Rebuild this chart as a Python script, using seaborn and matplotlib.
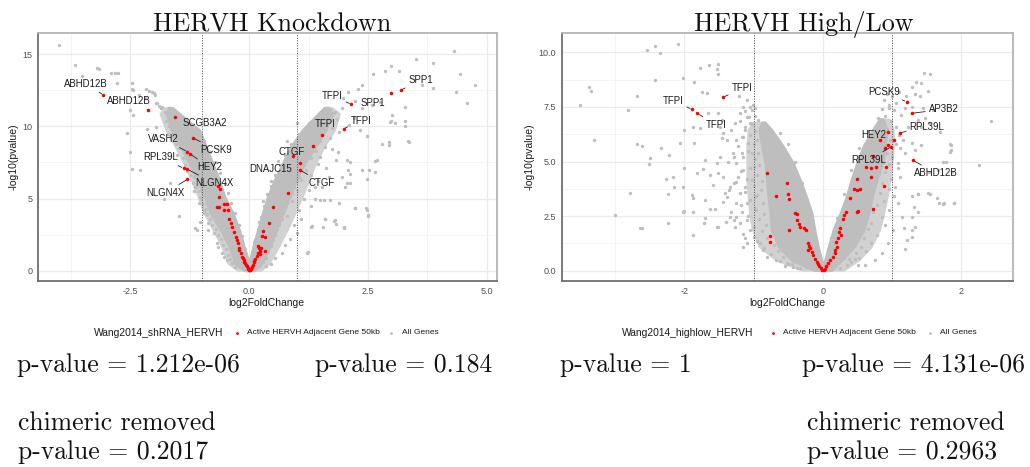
import matplotlib
matplotlib.use("Agg")
import matplotlib.pyplot as plt
from matplotlib.lines import Line2D
from matplotlib.ticker import FixedLocator
import pandas as pd
import seaborn as sns

# ---------------------------------------------------------------- data
# Knockdown screen: scattered genes away from the core (log2FC, -log10 p)
kd_other = [
    (-4.01, 15.65), (-3.66, 14.24), (-3.52, 13.50), (-3.20, 14.05), (-3.17, 13.95),
    (-2.90, 13.67), (-2.82, 13.67), (-2.77, 13.67), (-2.79, 12.98), (-2.47, 12.98),
    (-2.46, 12.60), (-2.44, 12.50), (-2.18, 12.56), (-2.10, 12.47), (-2.01, 12.28),
    (-2.05, 12.40), (-1.98, 12.17), (-2.31, 12.20), (-2.19, 11.94), (-1.96, 11.63),
    (-1.95, 11.60), (-1.90, 11.40), (-1.86, 11.25), (-2.52, 11.13), (-2.45, 10.80),
    (-2.57, 9.56), (-2.15, 9.79), (-1.96, 9.93), (-2.52, 8.20), (-2.47, 7.02),
    (-2.29, 6.97), (-1.66, 6.10), (-1.80, 5.00), (-1.47, 3.80), (-1.15, 2.98),
    (-1.10, 2.82), (-1.03, 3.40), (-1.05, 4.67), (-1.04, 5.12), (-1.17, 5.54),
    (-0.96, 3.97), (-0.86, 2.82), (-0.65, 1.66), (-0.54, 0.97),
    (-1.84, 11.31), (-1.77, 11.01), (-1.63, 9.74), (-1.49, 9.05), (-1.38, 8.36),
    (-1.28, 7.67), (-1.17, 6.51), (-1.14, 5.82), (-1.00, 5.36), (-0.96, 4.20),
    (-0.86, 3.28), (-0.75, 2.59), (-0.68, 1.89), (-0.58, 1.20), (-0.47, 0.74),
    (-0.36, 0.51), (-0.29, 0.28), (-1.00, 7.90), (-1.21, 9.05), (-1.35, 9.74),
    (4.32, 15.24), (3.86, 14.36), (3.51, 14.66), (2.99, 14.20), (2.85, 13.80),
    (3.16, 13.80), (2.60, 13.63), (4.43, 13.63), (4.76, 12.85), (4.35, 12.40),
    (3.86, 12.63), (3.64, 12.85), (3.28, 11.36), (4.58, 11.59), (2.37, 12.86),
    (2.30, 12.56), (2.09, 12.40), (1.97, 11.94), (2.23, 11.77), (2.37, 11.24),
    (2.58, 11.47), (2.76, 11.70), (3.00, 10.78), (2.98, 10.40), (3.28, 10.38),
    (2.97, 10.32), (3.06, 10.25), (3.28, 10.02), (3.37, 8.93), (2.95, 8.93),
    (2.79, 8.77), (2.95, 8.70), (3.35, 8.98), (2.34, 9.74), (2.48, 9.33),
    (2.69, 7.67), (2.65, 7.62), (2.65, 6.86), (2.48, 6.33), (2.46, 4.32),
    (2.50, 3.86), (2.22, 4.32), (1.99, 2.98), (1.90, 4.71), (1.80, 3.51),
    (1.60, 3.58), (1.55, 3.00), (1.71, 4.90), (1.39, 4.94), (1.48, 4.90),
    (1.31, 3.05), (1.21, 1.20), (2.13, 6.05), (2.06, 6.10), (2.09, 6.97),
    (2.13, 7.50), (2.06, 7.67), (1.87, 8.24), (1.83, 7.67), (1.67, 6.51),
    (1.32, 3.10), (1.59, 3.55), (1.78, 3.46), (1.82, 3.23), (2.00, 3.05),
    (2.48, 4.20), (2.50, 3.80), (2.23, 4.32), (2.02, 5.80), (1.38, 5.82),
    (1.54, 5.82), (1.57, 4.90), (1.24, 1.32), (2.53, 7.00), (2.37, 6.97),
    (2.13, 6.70), (1.95, 6.50),
    (1.65, 10.20), (1.75, 9.90), (1.85, 10.50), (1.90, 9.60), (1.70, 9.20),
    (1.60, 8.60), (1.75, 8.40), (1.50, 7.90), (1.45, 7.40), (1.62, 7.10),
    (1.30, 6.60), (1.45, 6.20), (1.25, 5.60), (1.15, 5.00), (1.30, 4.50),
    (1.05, 4.20), (1.10, 3.60), (0.95, 3.20), (1.00, 2.60), (0.85, 2.20),
    (0.75, 1.80), (0.70, 1.20), (0.55, 0.90), (0.45, 0.50), (0.35, 0.30),
    (1.80, 11.00), (1.95, 11.30), (1.70, 10.80), (1.55, 10.60), (2.10, 10.10),
    (2.20, 10.60), (1.20, 7.00), (1.30, 7.80), (1.40, 8.30), (1.50, 9.00),
    (0.90, 4.80), (1.00, 5.60), (1.10, 6.30), (0.80, 3.80),
    (0.30, 4.80), (0.45, 6.20), (0.60, 7.60), (0.80, 9.00), (1.00, 10.20),
    (0.20, 3.40), (0.10, 2.00),
]

# Knockdown screen: genes crowding the edges of the core
kd_edge = [
    (-1.75, 10.40), (-1.68, 10.00), (-1.72, 9.50), (-1.60, 9.30), (-1.55, 8.80),
    (-1.48, 8.50), (-1.52, 8.00), (-1.40, 7.80), (-1.35, 7.30), (-1.30, 6.90),
    (-1.22, 6.60), (-1.18, 6.10), (-1.12, 5.80), (-1.06, 5.50), (-1.02, 5.00),
    (-0.98, 4.60), (-0.92, 4.30), (-0.88, 3.90), (-0.82, 3.60), (-0.78, 3.20),
    (-0.70, 2.90), (-0.65, 2.50), (-0.60, 2.20), (-0.55, 1.80), (-0.48, 1.50),
    (-0.45, 1.10), (-0.40, 0.80), (-0.33, 0.60), (-0.25, 0.40),
    (-1.45, 10.60), (-1.30, 10.30), (-1.05, 9.60), (-0.95, 9.00), (-0.82, 8.20),
    (-0.72, 7.50), (-0.62, 6.80), (-0.52, 6.00), (-0.45, 5.40), (-0.38, 4.70),
    (-0.30, 4.00), (-0.22, 3.20), (-0.15, 2.40), (-0.08, 1.50), (-0.04, 0.90),
    (1.70, 11.20), (1.78, 10.90), (1.72, 10.50), (1.62, 10.00), (1.55, 9.60),
    (1.45, 9.20), (1.40, 8.90), (1.32, 8.40), (1.25, 8.00), (1.20, 7.60),
    (1.15, 7.30), (1.08, 6.90), (1.05, 6.50), (1.00, 6.20), (0.95, 5.80),
    (0.90, 5.40), (0.85, 5.10), (0.80, 4.70), (0.75, 4.40), (0.72, 4.00),
    (0.68, 3.60), (0.62, 3.20), (0.58, 2.90), (0.55, 2.50), (0.50, 2.10),
    (0.45, 1.70), (0.40, 1.30), (0.35, 0.90), (0.28, 0.60), (0.20, 0.30),
    (1.45, 10.70), (1.25, 10.20), (1.05, 9.50), (0.88, 8.80), (0.75, 8.00),
    (0.65, 7.30), (0.55, 6.60), (0.45, 5.90), (0.38, 5.30), (0.32, 4.50),
    (0.25, 3.70), (0.18, 2.90), (0.12, 2.10), (0.06, 1.30), (0.02, 0.70),
]

# Knockdown screen: active HERVH adjacent genes (50 kb)
kd_hervh = [
    (-3.07, 12.17), (-2.14, 11.10), (-1.56, 10.62), (-1.19, 9.21), (-1.30, 8.24),
    (-1.24, 8.08), (-1.38, 7.09), (-1.30, 7.02), (-1.30, 6.33),
    (-0.65, 5.89), (-0.61, 5.66), (-0.63, 5.12), (-0.68, 4.44), (-0.63, 4.44),
    (-0.53, 4.60), (-0.47, 4.60), (-0.44, 4.21), (-0.54, 4.20), (-0.42, 3.60),
    (-0.38, 3.30), (-0.36, 3.05), (-0.31, 2.70), (-0.27, 2.36), (-0.25, 2.10),
    (-0.24, 1.90), (-0.21, 1.60), (-0.21, 1.43), (-0.18, 1.20), (-0.16, 0.97),
    (-0.14, 0.85), (-0.12, 0.74), (-0.10, 0.62), (-0.08, 0.51), (-0.06, 0.40),
    (-0.05, 0.33), (-0.03, 0.22), (-0.02, 0.15), (0.00, 0.05),
    (3.19, 12.50), (2.98, 12.33), (2.15, 11.52), (1.99, 9.84), (1.54, 9.40),
    (1.35, 8.64), (0.93, 7.97), (1.07, 7.44), (1.07, 6.97), (0.81, 5.36),
    (0.51, 4.41), (0.41, 3.33), (0.29, 2.75), (0.27, 2.40), (0.34, 2.35),
    (0.34, 1.36), (0.18, 1.70), (0.20, 1.55), (0.23, 1.40), (0.19, 1.25),
    (0.22, 1.15), (0.25, 1.60), (0.16, 1.00), (0.13, 0.80), (0.11, 0.68),
    (0.10, 0.60), (0.07, 0.42), (0.05, 0.28), (0.03, 0.15), (0.01, 0.06),
]

# Knockdown screen: outline of the densely packed bulk of genes,
# and of the looser halo of genes around it
kd_core_y = [0.02, 0.51, 1.66, 2.82, 3.97, 5.13, 6.28, 7.43, 8.60, 9.75, 10.90, 11.30]
kd_core_left_outer = [-0.10, -0.30, -0.42, -0.60, -0.81, -0.95, -1.09, -1.26, -1.44, -1.64, -1.74, -1.70]
kd_core_left_inner = [0.05, 0.00, -0.11, -0.21, -0.34, -0.52, -0.63, -0.77, -0.91, -1.05, -1.48, -1.62]
kd_core_right_inner = [-0.05, 0.00, 0.08, 0.18, 0.28, 0.39, 0.53, 0.70, 0.88, 1.12, 1.46, 1.58]
kd_core_right_outer = [0.10, 0.27, 0.43, 0.57, 0.71, 0.85, 0.99, 1.16, 1.40, 1.61, 1.75, 1.66]
kd_halo_left_outer = [-0.25, -0.45, -0.58, -0.76, -0.95, -1.08, -1.22, -1.38, -1.56, -1.76, -1.88, -1.78]
kd_halo_right_outer = [0.25, 0.42, 0.62, 0.80, 0.96, 1.12, 1.26, 1.40, 1.58, 1.80, 1.90, 1.74]

# High/low comparison: scattered genes away from the core
hl_other = [
    (-3.50, 7.59), (-3.38, 8.43), (-3.35, 8.24), (-3.30, 5.99), (-3.00, 2.55),
    (-2.78, 3.55), (-2.64, 1.94), (-2.61, 1.97), (-2.69, 8.02), (-2.82, 7.36),
    (-2.69, 5.80), (-2.61, 5.73), (-2.54, 10.11), (-2.42, 10.29), (-2.35, 9.96),
    (-2.09, 10.37), (-2.42, 8.74), (-2.50, 5.15), (-2.51, 4.87), (-2.34, 5.60),
    (-2.22, 5.30), (-2.27, 4.20), (-2.17, 4.31), (-2.24, 3.50), (-2.15, 3.85),
    (-2.24, 2.20), (-2.02, 8.84), (-2.01, 6.44), (-2.06, 5.83), (-2.00, 4.69),
    (-2.02, 3.85), (-2.02, 2.71), (-2.00, 2.74), (-1.88, 2.67), (-1.88, 1.63),
    (-1.86, 8.62), (-1.87, 6.59), (-1.86, 5.83), (-1.89, 3.46), (-1.87, 3.31),
    (-1.78, 9.30), (-1.64, 9.42), (-1.52, 9.45), (-1.53, 9.24), (-1.51, 9.00),
    (-1.75, 8.20), (-1.67, 8.12), (-1.77, 6.52), (-1.70, 5.07), (-1.81, 4.46),
    (-1.73, 4.64), (-1.63, 4.38), (-1.58, 3.92), (-1.70, 3.24), (-1.63, 2.81),
    (-1.56, 2.81), (-1.70, 2.40), (-1.72, 2.17), (-1.52, 2.01), (-1.66, 7.20),
    (-1.51, 7.24), (-1.21, 7.98), (-1.46, 6.90), (-1.49, 6.60), (-1.44, 6.30),
    (-1.46, 6.08), (-1.41, 3.55), (-1.39, 3.39), (-1.44, 3.16), (-1.32, 2.71),
    (-1.34, 2.47), (-1.40, 2.25), (-1.53, 2.01), (-1.20, 2.17), (-1.27, 2.01),
    (-1.15, 1.10), (-1.12, 1.48),
    (-1.53, 4.92), (-1.49, 5.22), (-1.37, 4.99), (-1.29, 5.22), (-1.25, 4.92),
    (-1.17, 5.38), (-1.15, 4.61), (-1.22, 4.31), (-1.29, 4.00), (-1.13, 3.85),
    (-1.20, 3.54), (-1.25, 3.09), (-1.10, 3.09), (-1.17, 2.70), (-1.10, 2.32),
    (-1.25, 2.48), (-1.34, 3.85), (-1.44, 4.31), (-1.51, 4.46), (-1.39, 5.99),
    (-1.32, 6.45), (-1.27, 6.75), (-1.20, 7.21), (-1.15, 7.51), (-1.10, 7.06),
    (-1.03, 7.36), (-0.98, 7.44), (-1.05, 6.75), (-1.13, 6.45), (-1.25, 5.99),
    (-1.17, 6.14), (-1.08, 5.83), (-1.03, 5.38), (-1.00, 4.77), (-1.03, 4.16),
    (-0.98, 3.39), (-0.96, 2.78), (-1.05, 1.86), (-1.00, 1.56), (-0.91, 1.25),
    (-0.86, 0.95), (-1.10, 1.25), (-0.81, 0.64), (-0.67, 0.49), (-0.52, 0.34),
    (-0.43, 0.15), (-0.33, 0.11), (-0.50, 0.30), (-0.40, 0.55),
    (1.46, 9.07), (1.54, 9.01), (1.35, 8.66), (1.41, 8.58), (1.28, 8.43),
    (1.33, 8.09), (1.40, 8.00), (1.52, 8.23), (1.45, 7.44), (1.38, 6.90),
    (1.47, 6.98), (1.53, 6.75), (1.42, 6.60), (1.59, 7.36), (1.69, 6.34),
    (1.28, 7.51), (1.18, 7.44), (1.13, 7.13), (1.23, 6.60), (1.16, 5.99),
    (1.28, 5.83), (1.33, 5.53), (1.18, 5.38), (1.11, 5.60), (1.09, 4.92),
    (1.42, 5.76), (1.85, 5.76), (1.85, 5.53), (1.74, 4.99), (1.78, 4.99),
    (1.86, 4.54), (1.66, 4.61), (1.53, 4.54), (2.25, 4.84), (2.43, 6.87),
    (1.89, 3.09), (1.73, 3.04), (1.65, 3.31), (1.54, 3.51), (1.38, 3.51),
    (1.28, 3.44), (1.32, 2.93), (1.28, 2.48), (1.33, 2.02), (1.17, 1.94),
    (1.19, 0.98), (1.21, 1.40), (1.14, 2.48), (1.09, 3.09), (1.04, 3.85),
    (1.11, 4.31), (1.01, 1.86), (0.94, 1.25), (0.85, 0.80), (0.75, 0.49),
    (0.46, 0.52), (0.61, 0.26), (1.52, 3.55), (1.37, 3.50), (1.37, 2.68),
    (1.28, 1.53), (1.28, 1.87), (1.83, 5.80), (1.83, 5.43), (1.75, 3.10),
    (1.68, 3.10), (1.89, 3.12), (0.40, 0.40), (0.50, 0.25), (0.30, 0.60),
    (1.05, 7.70), (1.00, 8.00), (0.95, 7.45), (1.10, 8.20), (1.20, 8.00),
]

# High/low comparison: genes crowding the edges of the core
hl_edge = [
    (-1.10, 7.80), (-1.05, 7.50), (-1.13, 7.30), (-1.01, 7.60), (-1.06, 7.05),
    (-0.98, 7.10), (-0.93, 6.90), (-0.88, 6.75), (-1.02, 6.70), (-1.12, 6.60),
    (-1.20, 6.85), (-0.98, 6.40), (-1.05, 6.20), (-1.15, 6.10), (-0.95, 6.00),
    (-1.00, 5.80), (-1.22, 5.70), (-1.08, 5.50), (-0.93, 5.40), (-1.15, 5.20),
    (-0.98, 5.10), (-1.30, 5.40), (-0.92, 4.85), (-1.05, 4.70), (-1.18, 4.55),
    (-0.95, 4.40), (-1.10, 4.20), (-0.88, 4.10), (-1.25, 4.05), (-1.00, 3.90),
    (-0.90, 3.70), (-1.12, 3.60), (-0.95, 3.45), (-1.35, 3.70), (-1.05, 3.25),
    (-0.87, 3.10), (-1.18, 3.00), (-0.98, 2.85), (-0.85, 2.60), (-1.08, 2.50),
    (-0.92, 2.35), (-1.28, 2.30), (-0.82, 2.10), (-1.00, 2.00), (-0.88, 1.80),
    (-1.15, 1.70), (-0.80, 1.50), (-0.95, 1.35), (-0.70, 1.20), (-0.85, 1.05),
    (-0.65, 0.90), (-0.75, 0.75), (-0.58, 0.65), (-0.62, 0.45), (-0.55, 0.20),
    (-0.45, 0.30), (-0.38, 0.12), (-0.30, 0.35), (-0.25, 0.15),
    (-0.40, 5.00), (-0.30, 4.00), (-0.22, 3.00), (-0.50, 5.80), (-0.62, 6.30),
    (0.95, 7.60), (1.02, 7.35), (0.90, 7.10), (0.98, 6.85), (1.05, 6.60),
    (0.93, 6.50), (1.10, 6.20), (0.97, 6.00), (1.05, 5.80), (0.92, 5.40),
    (1.00, 5.20), (0.95, 4.90), (1.08, 4.70), (0.90, 4.50), (0.98, 4.20),
    (0.86, 4.00), (0.95, 3.75), (0.82, 3.55), (1.02, 3.40), (0.88, 3.20),
    (0.78, 3.00), (0.95, 2.80), (0.72, 2.70), (0.85, 2.45), (0.70, 2.20),
    (0.90, 2.10), (0.65, 1.90), (0.78, 1.65), (0.60, 1.50), (0.70, 1.25),
    (0.55, 1.10), (0.62, 0.90), (0.48, 0.80), (0.52, 0.60), (0.38, 0.55),
    (0.35, 0.25), (0.25, 0.12), (0.85, 7.40), (0.80, 7.00), (0.75, 6.60),
    (0.88, 7.80), (0.92, 8.10), (0.30, 3.50), (0.40, 4.60), (0.52, 5.60),
    (0.65, 6.40), (0.20, 2.40), (0.12, 1.50),
]

# High/low comparison: active HERVH adjacent genes (50 kb)
hl_hervh = [
    (-1.44, 7.94), (-1.89, 7.39), (-1.81, 7.20), (-0.81, 4.49), (-0.52, 4.03),
    (-0.67, 3.44), (-0.50, 3.50), (-0.49, 3.27), (-0.40, 2.66), (-0.38, 2.60),
    (-0.38, 2.32), (-0.35, 2.14), (-0.49, 1.86), (-0.33, 2.00), (-0.27, 1.97),
    (-0.25, 1.86), (-0.77, 1.58), (-0.77, 1.31), (-0.21, 1.25), (-0.20, 1.13),
    (-0.18, 1.05), (-0.21, 0.95), (-0.16, 0.85), (-0.14, 0.70), (-0.12, 0.55),
    (-0.09, 0.42), (-0.07, 0.30), (-0.05, 0.20), (-0.03, 0.12), (-0.01, 0.05),
    (1.21, 7.73), (1.29, 7.21), (1.11, 6.31), (0.94, 6.34), (0.83, 5.99),
    (1.02, 5.99), (0.89, 5.60), (0.94, 5.75), (0.99, 5.68), (0.91, 4.76),
    (1.30, 5.06), (0.72, 5.25), (0.62, 4.74), (0.69, 4.69), (0.77, 4.74),
    (0.70, 4.31), (0.88, 3.89), (0.45, 3.73), (0.49, 3.70), (0.53, 3.73),
    (0.49, 4.19), (0.39, 3.32), (0.73, 2.83), (0.49, 2.70), (0.51, 2.72),
    (0.33, 2.70), (0.31, 2.55), (0.29, 2.35), (0.25, 1.94), (0.23, 1.79),
    (0.26, 1.64), (0.22, 1.48), (0.19, 1.33), (0.20, 1.10), (0.17, 0.95),
    (0.18, 0.79), (0.14, 0.62), (0.11, 0.48), (0.08, 0.34), (0.05, 0.20),
    (0.03, 0.10), (0.01, 0.04),
]

# High/low comparison: outline of the densely packed bulk of genes and its halo
hl_core_left_y = [0.02, 0.49, 1.10, 1.87, 2.63, 3.39, 4.16, 4.92, 5.68, 6.45, 6.80]
hl_core_left_outer = [-0.12, -0.45, -0.64, -0.74, -0.76, -0.79, -0.81, -0.83, -0.88, -0.92, -0.88]
hl_core_left_inner = [0.05, -0.02, -0.07, -0.12, -0.16, -0.24, -0.33, -0.43, -0.57, -0.74, -0.84]
hl_halo_left_outer = [-0.30, -0.68, -0.92, -1.02, -1.06, -1.08, -1.10, -1.10, -1.10, -1.08, -1.02]
hl_core_right_y = [0.02, 0.49, 1.10, 1.87, 2.63, 3.39, 4.16, 4.92, 5.68, 6.45, 6.95]
hl_core_right_inner = [-0.05, 0.03, 0.08, 0.15, 0.25, 0.34, 0.41, 0.49, 0.58, 0.72, 0.82]
hl_core_right_outer = [0.12, 0.27, 0.45, 0.59, 0.66, 0.71, 0.78, 0.86, 0.90, 0.92, 0.87]
hl_halo_right_outer = [0.30, 0.52, 0.70, 0.82, 0.88, 0.93, 0.97, 1.00, 1.02, 1.02, 0.96]

# Gene labels: name, labelled gene (x, y), label anchor (x, y), leader line drawn
kd_labels = [
    ("ABHD12B", (-3.07, 12.17), (-3.44, 12.93), True),
    ("ABHD12B", (-2.14, 11.10), (-2.54, 11.75), False),
    ("SCGB3A2", (-1.56, 10.62), (-0.93, 10.20), False),
    ("VASH2", (-1.30, 8.24), (-1.80, 9.10), True),
    ("PCSK9", (-1.19, 9.21), (-0.69, 8.36), True),
    ("RPL39L", (-1.38, 7.09), (-1.86, 7.85), True),
    ("HEY2", (-1.24, 8.08), (-0.84, 7.16), True),
    ("NLGN4X", (-1.30, 7.02), (-0.73, 6.05), True),
    ("NLGN4X", (-1.30, 6.33), (-1.77, 5.40), True),
    ("SPP1", (3.19, 12.50), (3.61, 13.20), True),
    ("TFPI", (2.15, 11.52), (1.75, 12.12), True),
    ("SPP1", (2.98, 12.33), (2.60, 11.59), False),
    ("TFPI", (1.99, 9.84), (2.36, 10.39), True),
    ("TFPI", (1.54, 9.40), (1.59, 10.16), False),
    ("CTGF", (0.93, 7.97), (0.90, 8.20), False),
    ("DNAJC15", (1.07, 7.44), (0.46, 7.06), False),
    ("CTGF", (1.07, 6.97), (1.53, 6.09), True),
]
hl_labels = [
    ("TFPI", (-1.44, 7.94), (-1.17, 8.35), True),
    ("TFPI", (-1.89, 7.39), (-2.16, 7.79), True),
    ("TFPI", (-1.81, 7.20), (-1.54, 6.67), True),
    ("PCSK9", (1.21, 7.73), (0.885, 8.20), True),
    ("AP3B2", (1.29, 7.21), (1.74, 7.39), True),
    ("RPL39L", (1.11, 6.31), (1.50, 6.60), True),
    ("HEY2", (0.94, 6.34), (0.73, 6.22), False),
    ("RPL39L", (0.99, 5.68), (0.66, 5.07), True),
    ("ABHD12B", (1.30, 5.06), (1.63, 4.46), True),
]

# Enrichment statistics printed under the panels
pvals_row = ["p-value = 1.212e-06", "p-value = 0.184", "p-value = 1", "p-value = 4.131e-06"]
chimeric_note = "chimeric removed"
pvals_chimeric = ["p-value = 0.2017", "p-value = 0.2963"]

panel_titles = ["HERVH Knockdown", "HERVH High/Low"]
legend_titles = ["Wang2014_shRNA_HERVH", "Wang2014_highlow_HERVH"]
legend_items = ["Active HERVH Adjacent Gene 50kb", "All Genes"]

# ---------------------------------------------------------------- style
sns.set_theme(style="white")
plt.rcParams["font.family"] = ["Liberation Sans", "DejaVu Sans"]
plt.rcParams["axes.unicode_minus"] = False

GREY = "#BEBEBE"
HALO = "#D2D2D2"
RED = "#FF0000"
W, H = 1030, 467


def fx(px):
    return px / W


def fy(py):
    return 1 - py / H


fig = plt.figure(figsize=(W / 100, H / 100), dpi=100)


def volcano(ax, other, hervh, halos, cores, labels, xlim, ylim,
            xmaj, xmin, ymaj, ymin, xfmt, yfmt):
    ax.set_xlim(*xlim)
    ax.set_ylim(*ylim)
    ax.xaxis.set_major_locator(FixedLocator(xmaj))
    ax.xaxis.set_minor_locator(FixedLocator(xmin))
    ax.yaxis.set_major_locator(FixedLocator(ymaj))
    ax.yaxis.set_minor_locator(FixedLocator(ymin))
    ax.set_xticklabels([xfmt.format(v) for v in xmaj])
    ax.set_yticklabels([yfmt.format(v) for v in ymaj])
    ax.grid(which="major", color="#EBEBEB", lw=0.9)
    ax.grid(which="minor", color="#F3F3F3", lw=0.6)
    ax.set_axisbelow(True)
    ax.tick_params(which="major", length=2.0, width=0.6, color="#333333",
                   labelsize=6.5, labelcolor="#4D4D4D", pad=2.2)
    ax.tick_params(which="minor", length=0)
    for side in ("left", "bottom"):
        ax.spines[side].set_color("#6E6E6E")
        ax.spines[side].set_linewidth(1.3)
    for side in ("top", "right"):
        ax.spines[side].set_color("#B4B4B4")
        ax.spines[side].set_linewidth(1.3)

    for cy, h_out, c_in in halos:
        ax.fill_betweenx(cy, h_out, c_in, color=HALO, lw=1.2, zorder=1.5)
    for cy, c_out, c_in in cores:
        ax.fill_betweenx(cy, c_out, c_in, color=GREY, lw=1.8, zorder=2)

    df_o = pd.DataFrame(other, columns=["log2FoldChange", "nlp"])
    sns.scatterplot(data=df_o, x="log2FoldChange", y="nlp", ax=ax, color=GREY,
                    s=6, linewidth=0, legend=False, zorder=3)
    for xv in (-1, 1):
        ax.axvline(xv, color="#4A4A4A", lw=0.7, ls=(0, (1.0, 1.6)), zorder=4)
    df_h = pd.DataFrame(hervh, columns=["log2FoldChange", "nlp"])
    sns.scatterplot(data=df_h, x="log2FoldChange", y="nlp", ax=ax, color=RED,
                    s=6.5, linewidth=0, legend=False, zorder=5)
    ax.set_xlabel("")
    ax.set_ylabel("")

    for name, (gx, gy), (lx, ly), seg in labels:
        props = dict(arrowstyle="-", color="#222222", lw=0.6, shrinkA=0, shrinkB=1.5) if seg else None
        ax.annotate(name, xy=(gx, gy), xytext=(lx, ly), textcoords="data",
                    ha="center", va="center", fontsize=6.9, color="#1A1A1A",
                    arrowprops=props, zorder=6)


ax1 = fig.add_axes([fx(38.3), fy(281), fx(496.7) - fx(38.3), fy(33.3) - fy(281)])
volcano(ax1, kd_other + kd_edge, kd_hervh,
        [(kd_core_y, kd_halo_left_outer, kd_core_left_inner),
         (kd_core_y, kd_core_right_inner, kd_halo_right_outer)],
        [(kd_core_y, kd_core_left_outer, kd_core_left_inner),
         (kd_core_y, kd_core_right_inner, kd_core_right_outer)],
        kd_labels, (-4.44, 5.21), (-0.71, 16.44),
        [-2.5, 0, 2.5, 5.0], [-3.75, -1.25, 1.25, 3.75],
        [0, 5, 10, 15], [2.5, 7.5, 12.5], "{:.1f}", "{:.0f}")

ax2 = fig.add_axes([fx(561.7), fy(281), fx(1012.7) - fx(561.7), fy(33.3) - fy(281)])
volcano(ax2, hl_other + hl_edge, hl_hervh,
        [(hl_core_left_y, hl_halo_left_outer, hl_core_left_inner),
         (hl_core_right_y, hl_core_right_inner, hl_halo_right_outer)],
        [(hl_core_left_y, hl_core_left_outer, hl_core_left_inner),
         (hl_core_right_y, hl_core_right_inner, hl_core_right_outer)],
        hl_labels, (-3.77, 2.74), (-0.47, 10.87),
        [-2, 0, 2], [-3, -1, 1], [0, 2.5, 5.0, 7.5, 10.0], [1.25, 3.75, 6.25, 8.75],
        "{:.0f}", "{:.1f}")

# axis titles
for cx in (266.7, 787.0):
    fig.text(fx(cx), fy(303.3), "log2FoldChange", ha="center", va="center",
             fontsize=7.45, color="#1A1A1A")
for ylx in (14.0, 530.0):
    fig.text(fx(ylx), fy(157.0), "-log10(pvalue)", ha="center", va="center",
             rotation=90, fontsize=7.45, color="#1A1A1A")

# panel titles
SERIF = "cmr10"
fig.text(fx(272.5), fy(31), panel_titles[0], ha="center", va="baseline",
         fontsize=18.8, family=SERIF, color="#111111")
fig.text(fx(804.0), fy(31), panel_titles[1], ha="center", va="baseline",
         fontsize=18.8, family=SERIF, color="#111111")

# legends under each panel
for tx, dot1, t1, dot2, t2, title in (
        (94.3, 236.7, 247.3, 391.0, 401.7, legend_titles[0]),
        (622.0, 773.0, 783.0, 930.0, 940.0, legend_titles[1])):
    fig.text(fx(tx), fy(333), title, ha="left", va="center", fontsize=7.4, color="#1A1A1A")
    fig.add_artist(Line2D([fx(dot1)], [fy(333)], transform=fig.transFigure, marker="o",
                          ms=2.0, color=RED, lw=0, mew=0))
    fig.text(fx(t1), fy(333), legend_items[0], ha="left", va="center", fontsize=6.0,
             color="#1A1A1A")
    fig.add_artist(Line2D([fx(dot2)], [fy(333)], transform=fig.transFigure, marker="o",
                          ms=2.0, color=GREY, lw=0, mew=0))
    fig.text(fx(t2), fy(333), legend_items[1], ha="left", va="center", fontsize=6.0,
             color="#1A1A1A")

# statistics text
for px, txt in zip((16.7, 315.0, 560.0, 801.7), pvals_row):
    fig.text(fx(px), fy(372), txt, ha="left", va="baseline", fontsize=18.5,
             family=SERIF, color="#111111")
for px, pv in zip((18.3, 806.7), pvals_chimeric):
    fig.text(fx(px), fy(430.5), chimeric_note, ha="left", va="baseline", fontsize=18.5,
             family=SERIF, color="#111111")
    fig.text(fx(px), fy(459.5), pv, ha="left", va="baseline", fontsize=18.5,
             family=SERIF, color="#111111")

fig.savefig("out.png", dpi=100)
